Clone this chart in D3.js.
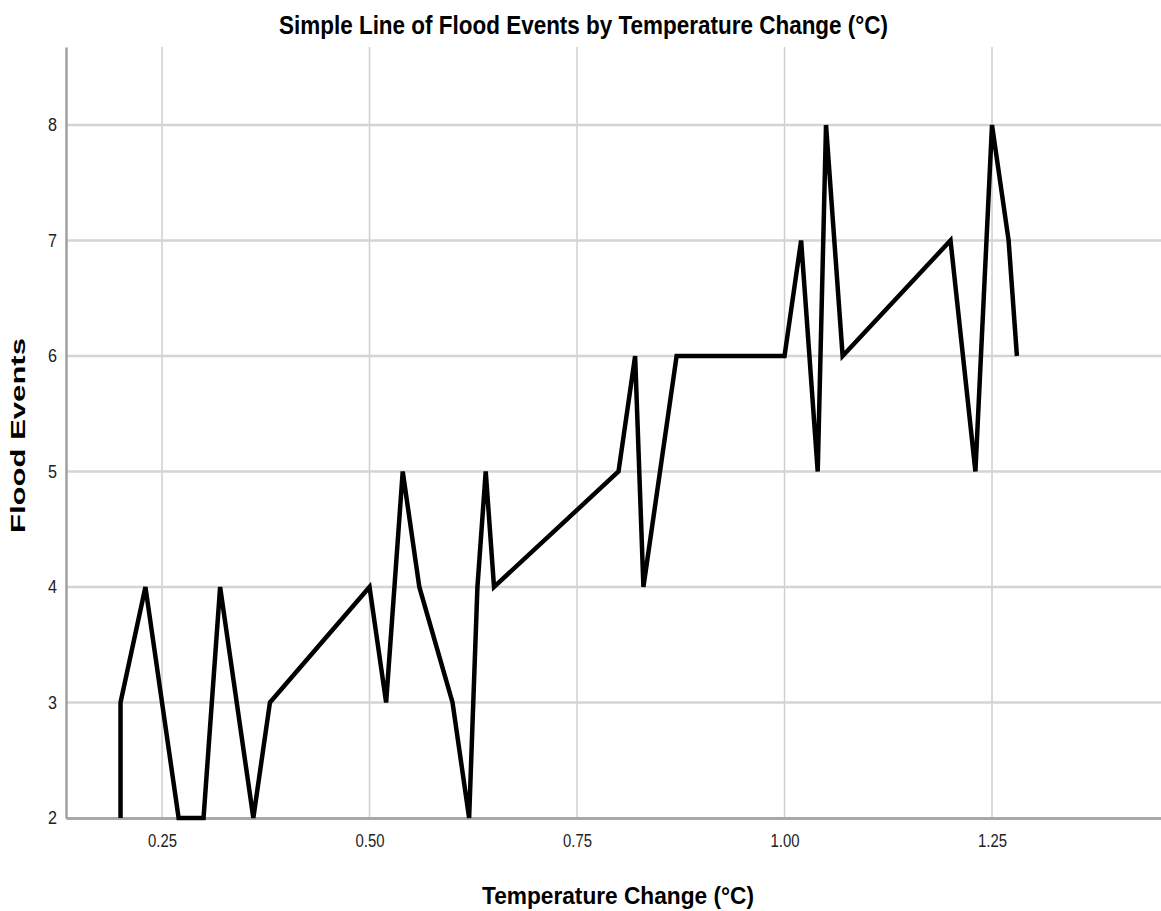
<!DOCTYPE html>
<html>
<head>
<meta charset="utf-8">
<script src="https://cdn.jsdelivr.net/npm/d3@7"></script>
<style>
  body { margin: 0; background: #fff; }
  svg { display: block; }
</style>
</head>
<body>
<div id="chart"></div>
<script>
// data
const tempChange = [0.20, 0.20, 0.23, 0.27, 0.30, 0.32, 0.36, 0.38, 0.50, 0.52,
  0.54, 0.56, 0.60, 0.62, 0.63, 0.64, 0.65, 0.80, 0.82, 0.83,
  0.87, 1.00, 1.02, 1.04, 1.05, 1.07, 1.20, 1.23, 1.25, 1.27, 1.28];
const floodEvents = [2, 3, 4, 2, 2, 4, 2, 3, 4, 3,
  5, 4, 3, 2, 4, 5, 4, 5, 6, 4,
  6, 6, 7, 5, 8, 6, 7, 5, 8, 7, 6];
const xTicks = [0.25, 0.50, 0.75, 1.00, 1.25];
const yTicks = [2, 3, 4, 5, 6, 7, 8];

const chartTitle = "Simple Line of Flood Events by Temperature Change (°C)";
const xTitle = "Temperature Change (°C)";
const yTitle = "Flood Events";

const width = 1161;
const height = 911;
const margin = { top: 47, right: 0, bottom: 93, left: 66 };
const sans = "'Liberation Sans', Arial, sans-serif";

const svg = d3.select('#chart')
  .append('svg')
  .attr('width', width)
  .attr('height', height);

const x = d3.scaleLinear()
  .domain([0.1343, 1.4536])
  .range([margin.left, width - margin.right]);

const y = d3.scaleLinear()
  .domain([2, 8.675])
  .range([height - margin.bottom, margin.top]);

// grid lines
svg.append('g')
  .selectAll('line')
  .data(xTicks)
  .enter()
  .append('line')
  .attr('x1', d => x(d)).attr('x2', d => x(d))
  .attr('y1', margin.top).attr('y2', height - margin.bottom)
  .attr('stroke', '#cfcfcf')
  .attr('stroke-width', 1.5);

svg.append('g')
  .selectAll('line')
  .data(yTicks.slice(1))
  .enter()
  .append('line')
  .attr('x1', margin.left).attr('x2', width - margin.right)
  .attr('y1', d => y(d)).attr('y2', d => y(d))
  .attr('stroke', '#d4d4d4')
  .attr('stroke-width', 2.5);

// X-axis
const xAxis = svg.append('g')
  .attr('transform', `translate(0,${height - margin.bottom})`)
  .call(d3.axisBottom(x).tickValues(xTicks).tickFormat(d3.format('.2f')).tickSize(0).tickPadding(16));
xAxis.select('.domain').attr('stroke', '#a8a8a8').attr('stroke-width', 3);
xAxis.selectAll('text')
  .attr('font-family', sans)
  .attr('font-size', '18px')
  .attr('fill', '#222')
  .attr('textLength', 29)
  .attr('lengthAdjust', 'spacingAndGlyphs');

// Y-axis
const yAxis = svg.append('g')
  .attr('transform', `translate(${margin.left},0)`)
  .call(d3.axisLeft(y).tickValues(yTicks).tickFormat(d3.format('d')).tickSize(0).tickPadding(9));
yAxis.select('.domain').attr('stroke', '#a0a0a0').attr('stroke-width', 2.5);
yAxis.selectAll('text')
  .attr('font-family', sans)
  .attr('font-size', '18px')
  .attr('fill', '#222')
  .attr('textLength', 9)
  .attr('lengthAdjust', 'spacingAndGlyphs');

// the line
const line = d3.line()
  .x((d, i) => x(tempChange[i]))
  .y(d => y(d));

svg.append('path')
  .datum(floodEvents)
  .attr('d', line)
  .attr('fill', 'none')
  .attr('stroke', '#000')
  .attr('stroke-width', 4.5)
  .attr('stroke-linejoin', 'miter')
  .attr('stroke-miterlimit', 3);

// titles
svg.append('text')
  .attr('x', 279)
  .attr('y', 34)
  .attr('font-family', sans)
  .attr('font-weight', 'bold')
  .attr('font-size', '26px')
  .attr('textLength', 609)
  .attr('lengthAdjust', 'spacingAndGlyphs')
  .text(chartTitle);

svg.append('text')
  .attr('x', 482)
  .attr('y', 904)
  .attr('font-family', sans)
  .attr('font-weight', 'bold')
  .attr('font-size', '24px')
  .attr('textLength', 272)
  .attr('lengthAdjust', 'spacingAndGlyphs')
  .text(xTitle);

svg.append('text')
  .attr('transform', 'translate(25,533) rotate(-90)')
  .attr('font-family', sans)
  .attr('font-weight', 'bold')
  .attr('font-size', '21px')
  .attr('textLength', 195)
  .attr('lengthAdjust', 'spacingAndGlyphs')
  .text(yTitle);
</script>
</body>
</html>
